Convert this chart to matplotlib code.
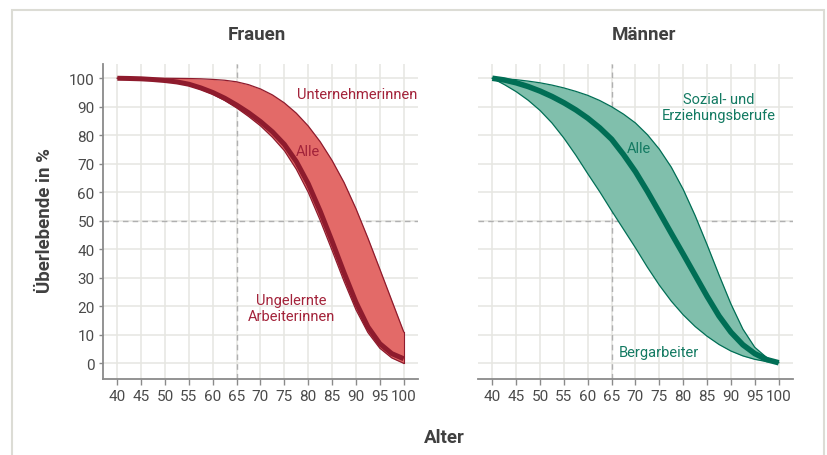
import matplotlib.pyplot as plt
from matplotlib.patches import Rectangle

plt.rcParams['font.family'] = ['Roboto', 'DejaVu Sans']

ages = [40, 42.5, 45, 47.5, 50, 52.5, 55, 57.5, 60, 62.5, 65, 67.5, 70,
        72.5, 75, 77.5, 80, 82.5, 85, 87.5, 90, 92.5, 95, 97.5, 100]

# Frauen
unternehmerinnen = [100, 100, 100, 100, 100, 99.95, 99.9, 99.8, 99.6, 99.3, 98.75, 97.75, 96.25,
                    94.15, 91.35, 87.75, 83.25, 77.75, 71.15, 63.45, 54.25, 43.95, 33.05, 22.05, 11.05]
frauen_alle = [100, 99.92, 99.8, 99.55, 99.2, 98.7, 97.9, 96.6, 95.0, 93.0, 90.6, 87.9, 84.8,
               81.2, 76.8, 70.8, 63.0, 53.4, 42.8, 31.8, 21.4, 12.8, 6.9, 3.4, 1.6]
ungelernte = [100, 99.9, 99.75, 99.45, 99.0, 98.4, 97.5, 96.1, 94.4, 92.2, 89.6, 86.6, 83.3,
              79.3, 74.6, 68.1, 60.0, 50.2, 39.6, 28.8, 18.8, 10.8, 5.3, 1.9, 0]

# Männer
sozial = [100, 99.8, 99.5, 99.0, 98.4, 97.6, 96.6, 95.4, 94.0, 92.2, 90.0, 87.4, 84.3,
          80.2, 75.1, 68.8, 61.0, 51.8, 41.6, 31.0, 20.8, 12.0, 5.6, 2.0, 0.4]
maenner_alle = [100, 99.4, 98.4, 97.1, 95.5, 93.6, 91.4, 88.9, 86.0, 82.6, 78.6, 73.2, 67.2,
                60.3, 53.0, 45.6, 38.3, 30.9, 23.5, 16.6, 10.9, 6.5, 3.4, 1.3, 0.2]
bergarbeiter = [100, 97.8, 95.3, 92.3, 88.7, 84.3, 79.0, 73.0, 66.5, 60.2, 53.5, 47.0, 40.5,
                33.7, 27.4, 21.8, 17.0, 12.9, 9.5, 6.6, 4.3, 2.6, 1.4, 0.6, 0.2]

xticks = list(range(40, 101, 5))
yticks = list(range(0, 101, 10))

fig = plt.figure(figsize=(8.28, 4.56), dpi=100)
ax1 = fig.add_axes([103 / 828, 76 / 456, 315 / 828, 315 / 456])
ax2 = fig.add_axes([478 / 828, 76 / 456, 315 / 828, 315 / 456])

grid_c = '#e6e6e1'
spine_c = '#8a8a8a'


def style(ax, show_y):
    ax.set_xlim(37, 103)
    ax.set_ylim(-5.5, 105)
    ax.set_xticks(xticks)
    ax.set_yticks(yticks)
    ax.grid(True, color=grid_c, lw=1.1, zorder=0)
    ax.set_axisbelow(True)
    for s in ['top', 'right']:
        ax.spines[s].set_visible(False)
    ax.spines['bottom'].set_color(spine_c)
    ax.spines['bottom'].set_linewidth(1.3)
    ax.tick_params(axis='x', colors=spine_c, labelcolor='#4a4a4a', labelsize=11,
                   length=4, width=1, pad=3)
    if show_y:
        ax.spines['left'].set_color(spine_c)
        ax.spines['left'].set_linewidth(1.3)
        ax.tick_params(axis='y', colors=spine_c, labelcolor='#4a4a4a', labelsize=11,
                       length=3, width=1, pad=3)
    else:
        ax.spines['left'].set_visible(False)
        ax.tick_params(axis='y', length=0, labelleft=False)
    ax.axvline(65, color='#b0b0b0', lw=1, ls=(0, (4, 3)), zorder=1)
    ax.axhline(50, color='#b0b0b0', lw=1, ls=(0, (4, 3)), zorder=1)


style(ax1, True)
style(ax2, False)

red_fill = '#e36a68'
red_dark = '#8e1b2d'
red_text = '#a3233a'
ax1.fill_between(ages, ungelernte, unternehmerinnen, color=red_fill, lw=0, zorder=2)
ax1.plot(ages, unternehmerinnen, color=red_dark, lw=0.9, zorder=3)
ax1.plot(ages, ungelernte, color=red_dark, lw=0.9, zorder=3)
ax1.plot(ages, frauen_alle, color=red_dark, lw=3.6, zorder=4, solid_capstyle='butt')
ax1.plot([100, 100], [ungelernte[-1], unternehmerinnen[-1]], color=red_dark, lw=0.8, zorder=3)

green_fill = '#80bfac'
green_dark = '#006e55'
green_text = '#137a62'
ax2.fill_between(ages, bergarbeiter, sozial, color=green_fill, lw=0, zorder=2)
ax2.plot(ages, sozial, color=green_dark, lw=0.9, zorder=3)
ax2.plot(ages, bergarbeiter, color=green_dark, lw=0.9, zorder=3)
ax2.plot(ages, maenner_alle, color=green_dark, lw=4, zorder=4, solid_capstyle='butt')

lab = dict(fontsize=10.5, ha='center', va='center', linespacing=1.1)
ax1.text(90.2, 94.5, 'Unternehmerinnen', color=red_text, **lab)
ax1.text(80, 74.5, 'Alle', color=red_text, **lab)
ax1.text(76.5, 19.4, 'Ungelernte\nArbeiterinnen', color=red_text, **lab)

ax2.text(87.4, 89.9, 'Sozial- und\nErziehungsberufe', color=green_text, **lab)
ax2.text(70.8, 75.5, 'Alle', color=green_text, **lab)
ax2.text(75, 4.1, 'Bergarbeiter', color=green_text, **lab)

fig.text(257 / 828, 1 - 35 / 456, 'Frauen', fontsize=13.5, fontweight='bold',
         color='#404040', ha='center', va='center')
fig.text(644 / 828, 1 - 35 / 456, 'Männer', fontsize=13.5, fontweight='bold',
         color='#404040', ha='center', va='center')
fig.text(444 / 828, 1 - 438 / 456, 'Alter', fontsize=13.5, fontweight='bold',
         color='#404040', ha='center', va='center')
fig.text(45 / 828, 1 - 221 / 456, 'Überlebende in %', fontsize=13.5, fontweight='bold',
         color='#404040', ha='center', va='center', rotation=90)

fig.add_artist(Rectangle((12 / 828, -0.05), (824 - 12) / 828, 1 - 11 / 456 + 0.05,
                         transform=fig.transFigure, fill=False, edgecolor='#dcdcd5', lw=1.5))

plt.savefig('out.png', dpi=100)
